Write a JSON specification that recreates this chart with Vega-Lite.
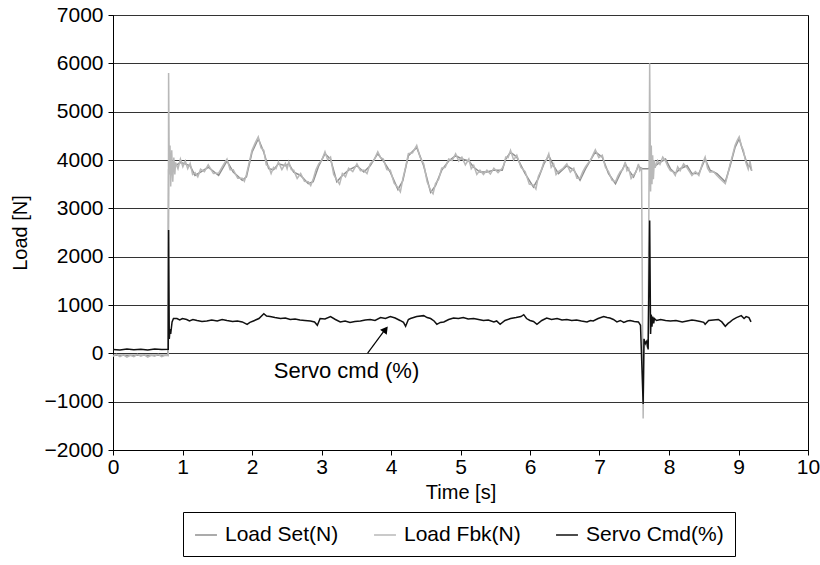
{
  "$schema": "https://vega.github.io/schema/vega-lite/v6.json",
  "autosize": {"type": "none"},
  "padding": {"left": 113, "top": 15, "right": 12, "bottom": 115},
  "width": 695,
  "height": 435,
  "config": {
    "font": "Liberation Sans",
    "view": {"stroke": "#000000", "strokeWidth": 1},
    "axis": {
      "labelFont": "Liberation Sans", "titleFont": "Liberation Sans",
      "labelFontSize": 21, "titleFontSize": 20, "titleFontWeight": "normal",
      "labelColor": "#000000", "titleColor": "#000000",
      "domainColor": "#000000", "tickColor": "#000000", "tickSize": 5,
      "gridColor": "#333333", "gridOpacity": 1, "gridWidth": 1,
      "labelFlush": false, "labelOverlap": false
    },
    "legend": {
      "labelFont": "Liberation Sans", "labelFontSize": 21, "labelColor": "#000000"
    }
  },
  "datasets": {
    "set": [
      {"t":0,"v":-40},{"t":0.4,"v":-40},{"t":0.79,"v":-40},{"t":0.8,"v":3800},{"t":0.9,"v":3880},{"t":0.97,"v":3950},{"t":1.04,"v":3920},{"t":1.11,"v":3880},{"t":1.18,"v":3680},{"t":1.26,"v":3750},{"t":1.37,"v":3850},{"t":1.52,"v":3680},{"t":1.64,"v":3980},{"t":1.73,"v":3750},{"t":1.86,"v":3580},{"t":1.92,"v":3650},{"t":2.0,"v":4160},{"t":2.09,"v":4440},{"t":2.17,"v":4160},{"t":2.24,"v":3820},{"t":2.31,"v":3800},{"t":2.38,"v":3920},{"t":2.48,"v":3880},{"t":2.53,"v":3920},{"t":2.6,"v":3750},{"t":2.7,"v":3680},{"t":2.81,"v":3510},{"t":2.88,"v":3550},{"t":2.96,"v":3880},{"t":3.05,"v":4130},{"t":3.13,"v":4020},{"t":3.22,"v":3550},{"t":3.3,"v":3680},{"t":3.39,"v":3790},{"t":3.51,"v":3880},{"t":3.61,"v":3750},{"t":3.7,"v":3880},{"t":3.81,"v":4130},{"t":3.89,"v":3980},{"t":3.99,"v":3750},{"t":4.1,"v":3390},{"t":4.17,"v":3570},{"t":4.25,"v":4090},{"t":4.37,"v":4260},{"t":4.47,"v":3880},{"t":4.57,"v":3330},{"t":4.64,"v":3470},{"t":4.73,"v":3790},{"t":4.83,"v":3980},{"t":4.93,"v":4090},{"t":5.02,"v":4020},{"t":5.12,"v":3980},{"t":5.19,"v":3850},{"t":5.28,"v":3750},{"t":5.38,"v":3750},{"t":5.48,"v":3790},{"t":5.6,"v":3790},{"t":5.65,"v":4020},{"t":5.72,"v":4160},{"t":5.81,"v":4060},{"t":5.93,"v":3720},{"t":6.05,"v":3440},{"t":6.12,"v":3620},{"t":6.2,"v":3920},{"t":6.27,"v":4090},{"t":6.34,"v":3880},{"t":6.41,"v":3720},{"t":6.53,"v":3880},{"t":6.63,"v":3790},{"t":6.72,"v":3580},{"t":6.8,"v":3820},{"t":6.94,"v":4170},{"t":7.04,"v":4060},{"t":7.13,"v":3720},{"t":7.23,"v":3510},{"t":7.3,"v":3720},{"t":7.37,"v":3920},{"t":7.42,"v":3790},{"t":7.49,"v":3650},{"t":7.56,"v":3880},{"t":7.6,"v":3820},{"t":7.7,"v":3820},{"t":7.8,"v":3880},{"t":7.87,"v":3950},{"t":7.95,"v":4020},{"t":8.02,"v":3820},{"t":8.09,"v":3720},{"t":8.16,"v":3820},{"t":8.26,"v":3880},{"t":8.33,"v":3720},{"t":8.43,"v":3720},{"t":8.52,"v":4020},{"t":8.59,"v":3790},{"t":8.69,"v":3720},{"t":8.81,"v":3550},{"t":8.88,"v":3880},{"t":8.95,"v":4260},{"t":9.01,"v":4440},{"t":9.07,"v":4160},{"t":9.14,"v":3850},{"t":9.16,"v":3900},{"t":9.19,"v":3780}
    ],
    "fbk": [
      {"t":0,"v":-60},{"t":0.05,"v":-20},{"t":0.1,"v":-70},{"t":0.15,"v":-30},{"t":0.2,"v":-80},{"t":0.25,"v":-40},{"t":0.3,"v":-70},{"t":0.35,"v":-20},{"t":0.4,"v":-60},{"t":0.45,"v":-30},{"t":0.5,"v":-80},{"t":0.55,"v":-40},{"t":0.6,"v":-60},{"t":0.65,"v":-20},{"t":0.7,"v":-70},{"t":0.75,"v":-40},{"t":0.795,"v":-50},
      {"t":0.8,"v":5800},{"t":0.81,"v":3700},{"t":0.82,"v":4300},{"t":0.83,"v":3450},{"t":0.845,"v":4200},{"t":0.86,"v":3550},{"t":0.875,"v":4050},{"t":0.89,"v":3700},{"t":0.9,"v":3950},{"t":0.935,"v":3820},{"t":0.97,"v":4020},{"t":1.005,"v":3860},{"t":1.04,"v":3980},{"t":1.075,"v":3820},{"t":1.11,"v":3930},{"t":1.145,"v":3700},{"t":1.18,"v":3740},{"t":1.22,"v":3650},{"t":1.26,"v":3810},{"t":1.315,"v":3760},{"t":1.37,"v":3900},{"t":1.445,"v":3720},{"t":1.52,"v":3730},{"t":1.58,"v":3880},{"t":1.64,"v":4020},{"t":1.685,"v":3800},{"t":1.73,"v":3800},{"t":1.795,"v":3620},{"t":1.86,"v":3620},{"t":1.89,"v":3560},{"t":1.92,"v":3700},{"t":1.96,"v":3950},{"t":2.0,"v":4200},{"t":2.045,"v":4350},{"t":2.09,"v":4480},{"t":2.13,"v":4250},{"t":2.17,"v":4200},{"t":2.205,"v":3900},{"t":2.24,"v":3870},{"t":2.275,"v":3720},{"t":2.31,"v":3850},{"t":2.345,"v":3820},{"t":2.38,"v":3960},{"t":2.43,"v":3800},{"t":2.48,"v":3930},{"t":2.505,"v":3820},{"t":2.53,"v":3960},{"t":2.565,"v":3800},{"t":2.6,"v":3790},{"t":2.65,"v":3620},{"t":2.7,"v":3720},{"t":2.755,"v":3560},{"t":2.81,"v":3550},{"t":2.845,"v":3470},{"t":2.88,"v":3600},{"t":2.92,"v":3800},{"t":2.96,"v":3920},{"t":3.005,"v":4000},{"t":3.05,"v":4170},{"t":3.09,"v":4000},{"t":3.13,"v":4060},{"t":3.175,"v":3700},{"t":3.22,"v":3590},{"t":3.26,"v":3500},{"t":3.3,"v":3720},{"t":3.345,"v":3650},{"t":3.39,"v":3830},{"t":3.45,"v":3760},{"t":3.51,"v":3920},{"t":3.56,"v":3780},{"t":3.61,"v":3790},{"t":3.655,"v":3720},{"t":3.7,"v":3920},{"t":3.755,"v":4000},{"t":3.81,"v":4170},{"t":3.85,"v":4050},{"t":3.89,"v":4020},{"t":3.94,"v":3800},{"t":3.99,"v":3790},{"t":4.045,"v":3520},{"t":4.1,"v":3430},{"t":4.135,"v":3340},{"t":4.17,"v":3610},{"t":4.21,"v":3850},{"t":4.25,"v":4130},{"t":4.31,"v":4150},{"t":4.37,"v":4300},{"t":4.42,"v":4050},{"t":4.47,"v":3920},{"t":4.52,"v":3550},{"t":4.57,"v":3370},{"t":4.605,"v":3300},{"t":4.64,"v":3510},{"t":4.685,"v":3600},{"t":4.73,"v":3830},{"t":4.78,"v":3850},{"t":4.83,"v":4020},{"t":4.88,"v":3990},{"t":4.93,"v":4130},{"t":4.975,"v":3980},{"t":5.02,"v":4060},{"t":5.07,"v":3900},{"t":5.12,"v":4020},{"t":5.155,"v":3820},{"t":5.19,"v":3890},{"t":5.235,"v":3700},{"t":5.28,"v":3790},{"t":5.33,"v":3700},{"t":5.38,"v":3790},{"t":5.43,"v":3710},{"t":5.48,"v":3830},{"t":5.54,"v":3740},{"t":5.6,"v":3830},{"t":5.625,"v":3900},{"t":5.65,"v":4060},{"t":5.685,"v":4050},{"t":5.72,"v":4200},{"t":5.765,"v":4000},{"t":5.81,"v":4100},{"t":5.87,"v":3850},{"t":5.93,"v":3760},{"t":5.99,"v":3500},{"t":6.05,"v":3480},{"t":6.085,"v":3400},{"t":6.12,"v":3660},{"t":6.16,"v":3780},{"t":6.2,"v":3960},{"t":6.235,"v":4000},{"t":6.27,"v":4130},{"t":6.305,"v":3850},{"t":6.34,"v":3920},{"t":6.375,"v":3700},{"t":6.41,"v":3760},{"t":6.47,"v":3820},{"t":6.53,"v":3920},{"t":6.58,"v":3750},{"t":6.63,"v":3830},{"t":6.675,"v":3620},{"t":6.72,"v":3620},{"t":6.76,"v":3760},{"t":6.8,"v":3860},{"t":6.87,"v":4000},{"t":6.94,"v":4210},{"t":6.99,"v":4050},{"t":7.04,"v":4100},{"t":7.085,"v":3850},{"t":7.13,"v":3760},{"t":7.18,"v":3580},{"t":7.23,"v":3550},{"t":7.265,"v":3670},{"t":7.3,"v":3760},{"t":7.335,"v":3800},{"t":7.37,"v":3960},{"t":7.395,"v":3780},{"t":7.42,"v":3830},{"t":7.455,"v":3620},{"t":7.49,"v":3690},{"t":7.525,"v":3750},{"t":7.56,"v":3920},{"t":7.58,"v":3780},{"t":7.605,"v":3850},
      {"t":7.628,"v":-1350},{"t":7.64,"v":100},{"t":7.66,"v":250},{"t":7.68,"v":150},{"t":7.7,"v":200},{"t":7.722,"v":6000},{"t":7.735,"v":3350},{"t":7.745,"v":4300},{"t":7.755,"v":3500},{"t":7.765,"v":4100},{"t":7.775,"v":3600},{"t":7.79,"v":4000},{"t":7.8,"v":3840},{"t":7.835,"v":3990},{"t":7.87,"v":3910},{"t":7.91,"v":4060},{"t":7.95,"v":3980},{"t":7.985,"v":3860},{"t":8.02,"v":3780},{"t":8.055,"v":3760},{"t":8.09,"v":3680},{"t":8.125,"v":3860},{"t":8.16,"v":3780},{"t":8.21,"v":3920},{"t":8.26,"v":3840},{"t":8.295,"v":3760},{"t":8.33,"v":3680},{"t":8.38,"v":3760},{"t":8.43,"v":3680},{"t":8.475,"v":3900},{"t":8.52,"v":4060},{"t":8.555,"v":3830},{"t":8.59,"v":3750},{"t":8.64,"v":3760},{"t":8.69,"v":3680},{"t":8.75,"v":3590},{"t":8.81,"v":3510},{"t":8.845,"v":3700},{"t":8.88,"v":3920},{"t":8.915,"v":4100},{"t":8.95,"v":4300},{"t":8.98,"v":4400},{"t":9.01,"v":4480},{"t":9.04,"v":4300},{"t":9.07,"v":4200},{"t":9.105,"v":3950},{"t":9.14,"v":3810},{"t":9.165,"v":3980},{"t":9.19,"v":3780}
    ],
    "servo": [
      {"t":0,"v":80},{"t":0.1,"v":70},{"t":0.2,"v":90},{"t":0.3,"v":75},{"t":0.4,"v":85},{"t":0.5,"v":70},{"t":0.6,"v":90},{"t":0.7,"v":80},{"t":0.795,"v":85},{"t":0.8,"v":2550},{"t":0.81,"v":300},{"t":0.82,"v":500},{"t":0.83,"v":400},{"t":0.85,"v":650},{"t":0.87,"v":720},{"t":0.92,"v":720},{"t":0.96,"v":690},{"t":1.0,"v":720},{"t":1.06,"v":700},{"t":1.1,"v":670},{"t":1.15,"v":700},{"t":1.21,"v":680},{"t":1.28,"v":660},{"t":1.35,"v":670},{"t":1.42,"v":690},{"t":1.5,"v":670},{"t":1.57,"v":700},{"t":1.64,"v":680},{"t":1.72,"v":660},{"t":1.79,"v":670},{"t":1.86,"v":650},{"t":1.93,"v":600},{"t":1.97,"v":640},{"t":2.02,"v":670},{"t":2.1,"v":720},{"t":2.17,"v":820},{"t":2.21,"v":770},{"t":2.26,"v":760},{"t":2.33,"v":740},{"t":2.41,"v":720},{"t":2.48,"v":730},{"t":2.55,"v":700},{"t":2.62,"v":710},{"t":2.69,"v":690},{"t":2.76,"v":680},{"t":2.84,"v":670},{"t":2.9,"v":650},{"t":2.94,"v":580},{"t":2.98,"v":720},{"t":3.05,"v":710},{"t":3.13,"v":760},{"t":3.2,"v":700},{"t":3.27,"v":650},{"t":3.34,"v":670},{"t":3.41,"v":640},{"t":3.48,"v":660},{"t":3.56,"v":670},{"t":3.63,"v":690},{"t":3.7,"v":700},{"t":3.77,"v":680},{"t":3.85,"v":740},{"t":3.92,"v":720},{"t":3.99,"v":760},{"t":4.06,"v":730},{"t":4.13,"v":680},{"t":4.18,"v":640},{"t":4.21,"v":560},{"t":4.25,"v":700},{"t":4.28,"v":720},{"t":4.37,"v":760},{"t":4.47,"v":780},{"t":4.52,"v":740},{"t":4.57,"v":720},{"t":4.62,"v":670},{"t":4.66,"v":600},{"t":4.71,"v":640},{"t":4.76,"v":650},{"t":4.83,"v":700},{"t":4.9,"v":730},{"t":4.97,"v":720},{"t":5.04,"v":740},{"t":5.11,"v":710},{"t":5.19,"v":720},{"t":5.26,"v":700},{"t":5.33,"v":680},{"t":5.4,"v":690},{"t":5.48,"v":650},{"t":5.52,"v":670},{"t":5.57,"v":600},{"t":5.64,"v":680},{"t":5.72,"v":720},{"t":5.8,"v":740},{"t":5.87,"v":760},{"t":5.91,"v":800},{"t":5.95,"v":720},{"t":6.0,"v":680},{"t":6.05,"v":660},{"t":6.1,"v":600},{"t":6.17,"v":680},{"t":6.24,"v":730},{"t":6.31,"v":700},{"t":6.39,"v":720},{"t":6.46,"v":690},{"t":6.53,"v":700},{"t":6.6,"v":680},{"t":6.67,"v":690},{"t":6.74,"v":670},{"t":6.82,"v":650},{"t":6.87,"v":680},{"t":6.91,"v":670},{"t":6.98,"v":720},{"t":7.06,"v":760},{"t":7.11,"v":740},{"t":7.15,"v":730},{"t":7.2,"v":700},{"t":7.25,"v":650},{"t":7.3,"v":680},{"t":7.35,"v":640},{"t":7.4,"v":670},{"t":7.44,"v":680},{"t":7.5,"v":660},{"t":7.56,"v":650},{"t":7.59,"v":580},{"t":7.628,"v":-1050},{"t":7.64,"v":300},{"t":7.66,"v":200},{"t":7.68,"v":250},{"t":7.7,"v":80},{"t":7.722,"v":2750},{"t":7.735,"v":400},{"t":7.745,"v":800},{"t":7.755,"v":550},{"t":7.765,"v":760},{"t":7.78,"v":620},{"t":7.79,"v":720},{"t":7.82,"v":680},{"t":7.88,"v":700},{"t":7.95,"v":680},{"t":8.02,"v":670},{"t":8.1,"v":680},{"t":8.19,"v":650},{"t":8.26,"v":670},{"t":8.33,"v":690},{"t":8.38,"v":680},{"t":8.45,"v":660},{"t":8.5,"v":640},{"t":8.52,"v":600},{"t":8.57,"v":680},{"t":8.64,"v":690},{"t":8.71,"v":700},{"t":8.76,"v":650},{"t":8.81,"v":560},{"t":8.85,"v":620},{"t":8.88,"v":650},{"t":8.92,"v":700},{"t":8.97,"v":740},{"t":9.04,"v":780},{"t":9.08,"v":720},{"t":9.11,"v":760},{"t":9.15,"v":740},{"t":9.18,"v":650}
    ],
    "note": [{"t": 3.36, "v": -500, "label": "Servo cmd (%)"}],
    "arrow": [{"t": 3.664, "v": 6, "t2": 3.93, "v2": 520}],
    "head": [{"t": 3.922, "v": 496}]
  },
  "encoding": {
    "x": {"field": "t", "type": "quantitative", "scale": {"domain": [0, 10]},
      "axis": {"title": "Time [s]", "grid": false, "values": [0,1,2,3,4,5,6,7,8,9,10], "labelPadding": 1, "titlePadding": 5}},
    "y": {"field": "v", "type": "quantitative", "scale": {"domain": [-2000, 7000]},
      "axis": {"title": "Load [N]", "values": [-2000,-1000,0,1000,2000,3000,4000,5000,6000,7000], "format": "d", "labelPadding": 5, "titlePadding": 14}}
  },
  "layer": [
    {
      "data": {"name": "set"},
      "mark": {"type": "line", "strokeWidth": 1.5},
      "encoding": {
        "color": {"datum": "Load Set(N)", "type": "nominal",
          "scale": {"domain": ["Load Set(N)", "Load Fbk(N)", "Servo Cmd(%)"], "range": ["#8f8f8f", "#b8b8b8", "#111111"]},
          "legend": {"title": null, "orient": "none", "legendX": 70, "legendY": 497, "direction": "horizontal",
            "strokeColor": "#000000", "padding": 11, "symbolType": "stroke", "symbolSize": 480, "symbolStrokeWidth": 1.5,
            "labelOffset": 7, "columnPadding": 32, "labelFontSize": 21}}
      }
    },
    {
      "data": {"name": "fbk"},
      "mark": {"type": "line", "strokeWidth": 1.5},
      "encoding": {"color": {"datum": "Load Fbk(N)", "type": "nominal"}}
    },
    {
      "data": {"name": "servo"},
      "mark": {"type": "line", "strokeWidth": 1.5},
      "encoding": {"color": {"datum": "Servo Cmd(%)", "type": "nominal"}}
    },
    {
      "data": {"name": "note"},
      "mark": {"type": "text", "fontSize": 22, "align": "center", "baseline": "alphabetic", "color": "#000000"},
      "encoding": {"text": {"field": "label"}}
    },
    {
      "data": {"name": "arrow"},
      "mark": {"type": "rule", "color": "#000000", "strokeWidth": 1.2},
      "encoding": {"x2": {"field": "t2"}, "y2": {"field": "v2"}}
    },
    {
      "data": {"name": "head"},
      "mark": {"type": "point", "shape": "triangle-up", "filled": true, "color": "#000000", "size": 70, "angle": 37, "opacity": 1},
      "encoding": {}
    }
  ]
}
